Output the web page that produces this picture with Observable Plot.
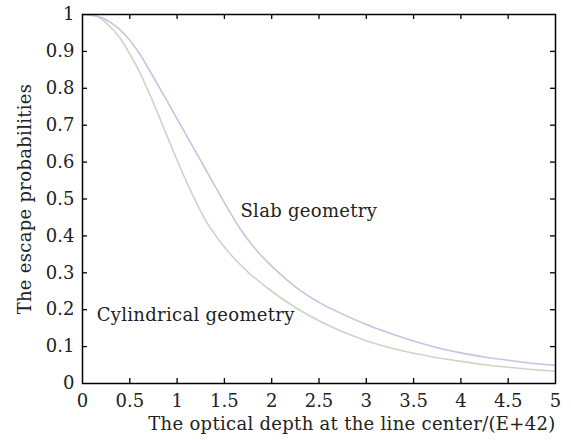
<!DOCTYPE html>
<html>
<head>
<meta charset="utf-8">
<script src="https://cdn.jsdelivr.net/npm/d3@7"></script>
<script src="https://cdn.jsdelivr.net/npm/@observablehq/plot@0.6"></script>
<style>
  html, body { margin: 0; padding: 0; background: #fff; }
  #chart svg, #chart svg text { font-family: "DejaVu Serif", serif !important; }
  #chart svg text.wide { letter-spacing: 0.3px; }
</style>
</head>
<body>
<div id="chart"></div>
<script>
const slabX = [0, 0.15, 0.3, 0.45, 0.6, 0.75, 0.9, 1.0, 1.1, 1.25, 1.35, 1.5, 1.67, 1.85, 2.0, 2.25, 2.5, 2.75, 3.0, 3.25, 3.5, 3.75, 4.0, 4.25, 4.5, 4.75, 5.0];
const slabY = [1.0, 0.996, 0.978, 0.945, 0.895, 0.83, 0.763, 0.717, 0.672, 0.604, 0.558, 0.49, 0.418, 0.358, 0.318, 0.262, 0.22, 0.188, 0.16, 0.136, 0.115, 0.097, 0.083, 0.072, 0.063, 0.055, 0.049];
const cylX = [0, 0.15, 0.26, 0.4, 0.5, 0.6, 0.72, 0.86, 1.0, 1.17, 1.3, 1.46, 1.6, 1.75, 2.0, 2.25, 2.5, 2.75, 3.0, 3.25, 3.5, 3.75, 4.0, 4.25, 4.5, 4.75, 5.0];
const cylY = [1.0, 0.995, 0.975, 0.935, 0.893, 0.846, 0.778, 0.692, 0.605, 0.508, 0.443, 0.383, 0.34, 0.302, 0.25, 0.206, 0.17, 0.14, 0.116, 0.097, 0.082, 0.07, 0.06, 0.051, 0.044, 0.038, 0.033];
const xTicks = [0, 0.5, 1, 1.5, 2, 2.5, 3, 3.5, 4, 4.5, 5];
const yTicks = [0, 0.1, 0.2, 0.3, 0.4, 0.5, 0.6, 0.7, 0.8, 0.9, 1];
const innerXTicks = [0.5, 1, 1.5, 2, 2.5, 3, 3.5, 4, 4.5];
const innerYTicks = [0.1, 0.2, 0.3, 0.4, 0.5, 0.6, 0.7, 0.8, 0.9];
const xLabel = "The optical depth at the line center/(E+42)";
const yLabel = "The escape probabilities";
const annotations = [
  {x: 1.67, y: 0.466, label: "Slab geometry"},
  {x: 0.15, y: 0.185, label: "Cylindrical geometry"}
];

const slab = slabX.map((x, i) => ({x, y: slabY[i]}));
const cyl = cylX.map((x, i) => ({x, y: cylY[i]}));

const W = 571, H = 441;
const mL = 82, mR = 16, mT = 14, mB = 58;
const pw = W - mL - mR, ph = H - mT - mB;
const tk = 5;
const font = "DejaVu Serif";
const fs = 18;

const chart = Plot.plot({
  width: W,
  height: H,
  marginLeft: mL, marginRight: mR, marginTop: mT, marginBottom: mB,
  style: {fontFamily: font, fontSize: fs + "px", background: "#fff", color: "#222"},
  x: {domain: [0, 5]},
  y: {domain: [0, 1]},
  marks: [
    Plot.line(cyl, {x: "x", y: "y", stroke: "#cdd5c2", strokeWidth: 1.6, curve: "monotone-x"}),
    Plot.line(slab, {x: "x", y: "y", stroke: "#c4c4e4", strokeWidth: 1.6, curve: "monotone-x"}),
    Plot.tickX(innerXTicks, {x: d => d, insetTop: ph - tk, stroke: "#000", strokeWidth: 1.3}),
    Plot.tickX(innerXTicks, {x: d => d, insetBottom: ph - tk, stroke: "#000", strokeWidth: 1.3}),
    Plot.tickY(innerYTicks, {y: d => d, insetRight: pw - tk, stroke: "#000", strokeWidth: 1.3}),
    Plot.tickY(innerYTicks, {y: d => d, insetLeft: pw - tk, stroke: "#000", strokeWidth: 1.3}),
    Plot.frame({stroke: "#000", strokeWidth: 1.5}),
    Plot.axisX(xTicks, {tickSize: 0, tickPadding: 11, tickFormat: d => String(d), fontSize: fs, label: null}),
    Plot.axisY(yTicks, {tickSize: 0, tickPadding: 8, tickFormat: d => String(d), fontSize: fs,
      label: yLabel, labelAnchor: "center", labelOffset: 64, labelArrow: "none"}),
    Plot.text([xLabel], {frameAnchor: "bottom-right", text: d => d, textAnchor: "end", lineAnchor: "middle", dy: 41, fontSize: fs, fill: "#222"}),
    Plot.text(annotations, {x: "x", y: "y", text: "label", textAnchor: "start", fontSize: fs, fill: "#222"})
  ]
});
document.getElementById("chart").appendChild(chart);
chart.querySelectorAll("text").forEach(t => {
  if (t.textContent.length > 5) t.classList.add("wide");
});
</script>
</body>
</html>
